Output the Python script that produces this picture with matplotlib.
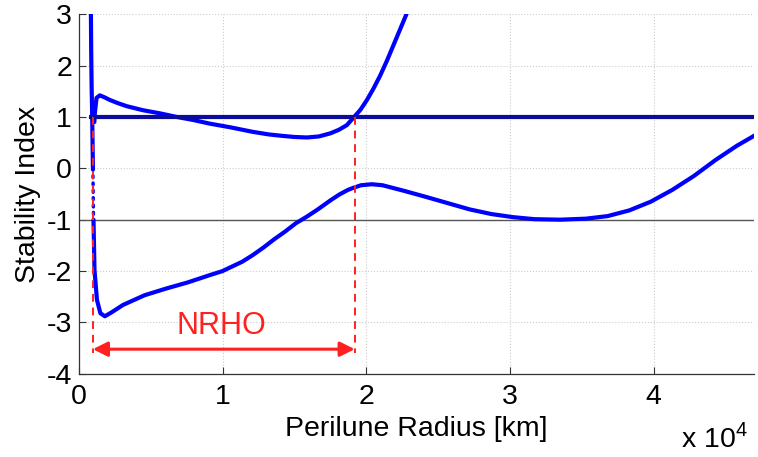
"""
Stability index vs perilune radius for the L2 halo / NRHO family.
"""
import matplotlib
matplotlib.use('Agg')
import matplotlib.pyplot as plt

plt.rcParams['font.family'] = ['Liberation Sans', 'DejaVu Sans']
plt.rcParams['mathtext.fontset'] = 'custom'
plt.rcParams['mathtext.rm'] = 'Liberation Sans'

# upper nontrivial index (in-plane)
a_x = [1080, 1115, 1230, 1460, 1800, 2160, 2700, 3320, 4470, 5640, 6800,
       7970, 9100, 10500, 12100, 13200, 14200, 15000, 15870, 16700, 17500,
       18100, 18650, 19160, 19600, 20050, 20500, 20980, 21450, 21900,
       22350, 22800]
a_y = [0.90, 1.07, 1.37, 1.42, 1.38, 1.33, 1.27, 1.21, 1.13, 1.07, 1.00,
       0.94, 0.87, 0.80, 0.71, 0.66, 0.63, 0.61, 0.60, 0.62, 0.68,
       0.75, 0.84, 1.00, 1.14, 1.33, 1.55, 1.81, 2.10, 2.40,
       2.70, 3.00]

# lower nontrivial index: steep branch near the small-radius end
b_top_x = [840, 860, 890, 930, 960, 980]
b_top_y = [3.0, 2.3, 1.6, 1.0, 0.4, 0.0]
b_dot_x = [980, 990, 1000, 1010, 1020]
b_dot_y = [0.0, -0.25, -0.5, -0.75, -1.0]
b_x = [1020, 1090, 1260, 1500, 1810, 2300, 3070, 4580, 6080, 7590, 9100,
       10000, 10600, 11360, 12100, 12860, 13600, 14360, 15100, 15870,
       16630, 17530, 18130, 18730, 19100, 19640, 20390, 21140, 22650,
       24200, 25700, 27200, 28700, 30200, 31700, 33500, 35300, 36800,
       38300, 39800, 41300, 42800, 44300, 45800, 47100]
b_y = [-1.00, -1.98, -2.56, -2.82, -2.88, -2.80, -2.66, -2.47, -2.34,
       -2.22, -2.08, -2.00, -1.92, -1.82, -1.69, -1.54, -1.38, -1.23,
       -1.07, -0.94, -0.80, -0.62, -0.51, -0.42, -0.38, -0.33, -0.31,
       -0.33, -0.44, -0.56, -0.68, -0.80, -0.89, -0.95, -0.99, -1.00,
       -0.98, -0.93, -0.82, -0.65, -0.42, -0.15, 0.16, 0.44, 0.65]

# trivial pair and stability boundary
triv_x = [700, 47000]
triv_y = [1.0, 1.0]
bound_x = [0, 47000]
bound_y = [-1.0, -1.0]

# NRHO range
nrho_lo, nrho_hi = 975, 19200
arrow_y = -3.52

BLUE = '#0000ff'
RED = '#ff2020'

fig = plt.figure(figsize=(7.58, 4.57), dpi=100)
ax = fig.add_axes([0.104, 0.182, 0.891, 0.787])

ax.plot(bound_x, bound_y, color='#555555', lw=1.0, zorder=2)
ax.plot(triv_x, triv_y, color='#0c0c9c', lw=3.0, zorder=4, solid_capstyle='butt')
ax.plot(a_x, a_y, color=BLUE, lw=3.0, zorder=3, solid_capstyle='round',
        solid_joinstyle='round')
ax.plot(b_top_x, b_top_y, color=BLUE, lw=3.0, zorder=3)
ax.plot(b_dot_x, b_dot_y, color=BLUE, lw=2.4, ls=(0, (0.6, 1.6)),
        dash_capstyle='round', zorder=3)
ax.plot(b_x, b_y, color=BLUE, lw=3.0, zorder=3, solid_capstyle='round',
        solid_joinstyle='round')

for xv in (nrho_lo, nrho_hi):
    ax.plot([xv, xv], [1.0, -3.6], color=RED, lw=1.4, ls=(0, (4, 3)), zorder=5)

ax.annotate('', xy=(nrho_lo, arrow_y), xytext=(nrho_hi, arrow_y),
            arrowprops=dict(arrowstyle='<|-|>', color=RED, lw=2.2,
                            mutation_scale=22, shrinkA=0, shrinkB=0),
            zorder=6)
ax.text(9900, -3.23, 'NRHO', color=RED, fontsize=22, ha='center',
        va='baseline', zorder=6)

ax.set_xlim(0, 47000)
ax.set_ylim(-4, 3)
ax.set_xticks([0, 10000, 20000, 30000, 40000])
ax.set_xticklabels(['0', '1', '2', '3', '4'])
ax.set_yticks(range(-4, 4))
ax.set_yticklabels([str(v) for v in range(-4, 4)])
ax.tick_params(direction='in', length=5, width=0.8, labelsize=20.5,
               color='#333333', pad=5)
ax.tick_params(axis='x', pad=7)
ax.grid(True, color='#cccccc', linestyle=':', linewidth=0.8)
ax.set_axisbelow(True)
for side in ('top', 'right'):
    ax.spines[side].set_visible(False)
for side in ('left', 'bottom'):
    ax.spines[side].set_color('#333333')
    ax.spines[side].set_linewidth(0.9)

ax.set_xlabel('Perilune Radius [km]', fontsize=20.5, labelpad=5)
ax.set_ylabel('Stability Index', fontsize=20.5, labelpad=4)
fig.text(0.987, 0.008, r'x 10$^{\mathregular{4}}$', fontsize=20.5,
         ha='right', va='bottom')

fig.savefig('out.png', dpi=100, facecolor='white')
